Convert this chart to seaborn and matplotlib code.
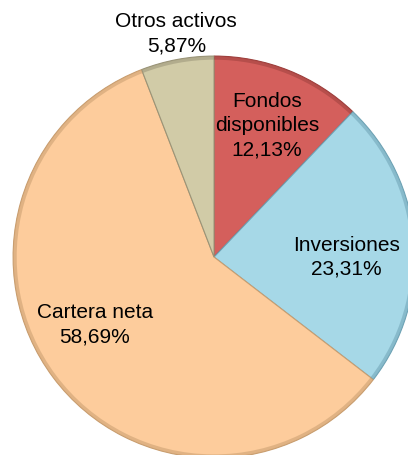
import numpy as np
import matplotlib.pyplot as plt
import seaborn as sns

# Datos del gráfico
categorias = ['Fondos\ndisponibles', 'Inversiones', 'Cartera neta', 'Otros activos']
porcentajes = [12.13, 23.31, 58.69, 5.87]
colores = ['#D45F5C', '#A6D8E7', '#FDCC9C', '#D1CBA7']
bordes = ['#9E403D', '#6FA3B5', '#C99E70', '#9A9478']

sns.set_theme(style='white')
plt.rcParams['font.family'] = ['Liberation Sans', 'DejaVu Sans']

fig = plt.figure(figsize=(4.08, 4.56), dpi=100)
ax = fig.add_axes([0, 0, 1, 1])

paleta = sns.color_palette(colores)
wedges, _ = ax.pie(porcentajes, colors=paleta, startangle=90, counterclock=False,
                   radius=1.0, wedgeprops=dict(linewidth=0))

# borde exterior sombreado (efecto bisel)
anillo, _ = ax.pie(porcentajes, colors=sns.color_palette(bordes), startangle=90,
                   counterclock=False, radius=1.0,
                   wedgeprops=dict(width=0.018, linewidth=0, alpha=0.55))
for w, b in zip(wedges, bordes):
    w.set_edgecolor(b)
    w.set_linewidth(0.8)

ax.set_xlim(-1.065, 0.965)
ax.set_ylim(-0.985, 1.284)
ax.set_aspect('equal')
ax.axis('off')

# Etiquetas
radios = [0.71, 0.66, 0.68, 1.13]
giros = [0, -4, -7.5, -1]
for w, cat, p, r, g in zip(wedges, categorias, porcentajes, radios, giros):
    ang = np.deg2rad((w.theta1 + w.theta2) / 2 + g)
    texto = f"{cat}\n{p:.2f}%".replace('.', ',')
    ax.text(r * np.cos(ang), r * np.sin(ang), texto, ha='center', va='center',
            fontsize=15, color='black', linespacing=1.35)

fig.savefig('out.png', dpi=100)
